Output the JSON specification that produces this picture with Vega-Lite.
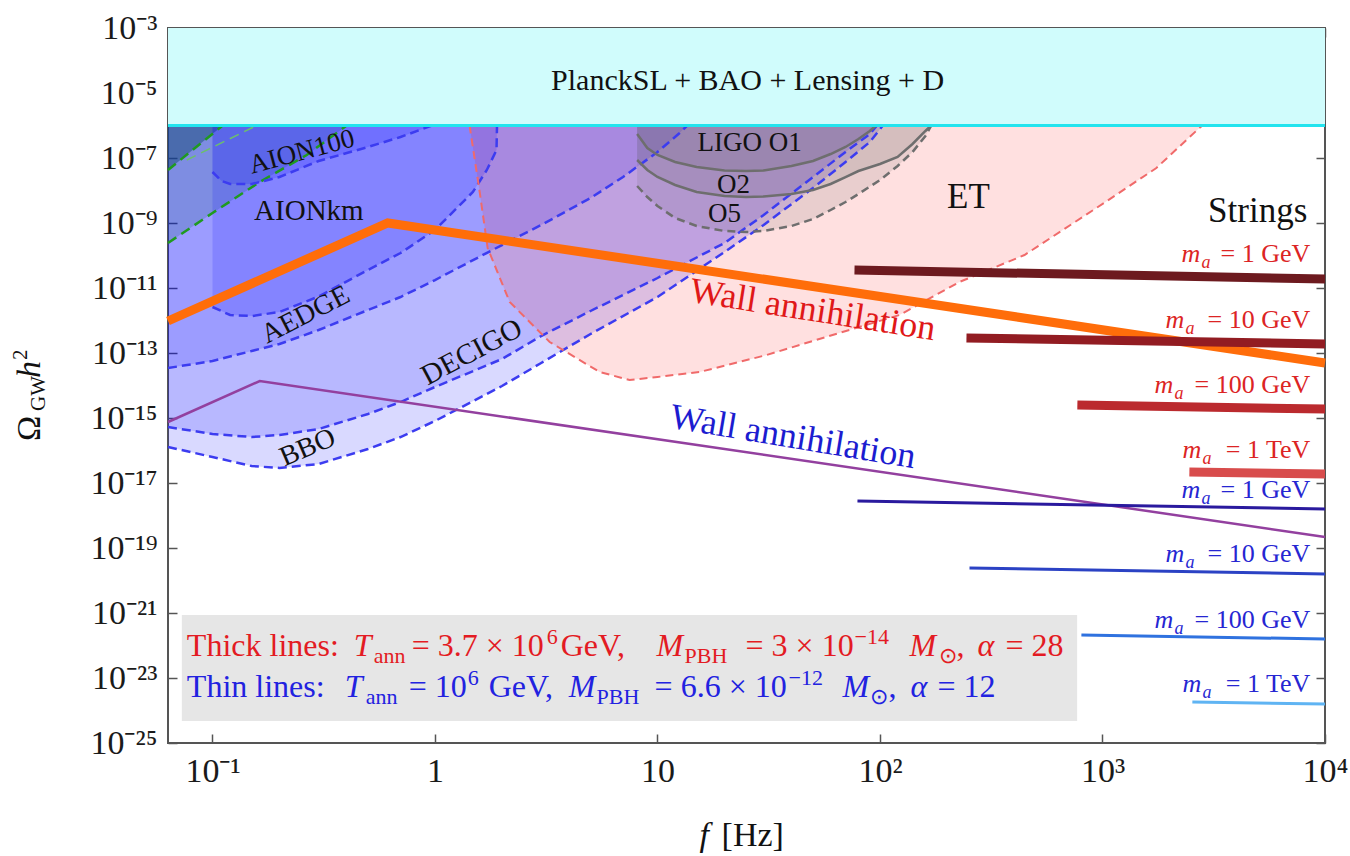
{
  "$schema": "https://vega.github.io/schema/vega-lite/v6.json",
  "width": 1157,
  "height": 715,
  "autosize": {"type": "none"},
  "padding": {"left": 168, "top": 28, "right": 25, "bottom": 113},
  "background": "white",
  "config": {
    "font": "Liberation Serif",
    "text": {"font": "Liberation Serif"},
    "view": {"stroke": "#555555", "strokeWidth": 2}
  },
  "datasets": {
    "blue": [
      {"g": "AION100", "f": 0.1, "o": 3.71e-8},
      {"g": "AION100", "f": 0.11, "o": 1.96e-8},
      {"g": "AION100", "f": 0.12, "o": 1.585e-8},
      {"g": "AION100", "f": 0.15, "o": 1.585e-8},
      {"g": "AION100", "f": 0.2, "o": 2.6e-8},
      {"g": "AION100", "f": 0.3, "o": 8.09e-8},
      {"g": "AION100", "f": 0.5, "o": 2.18e-7},
      {"g": "AION100", "f": 0.7, "o": 4.43e-7},
      {"g": "AION100", "f": 0.97, "o": 1e-6},
      {"g": "AIONkm", "f": 0.1, "o": 2.6e-12},
      {"g": "AIONkm", "f": 0.12, "o": 1.48e-12},
      {"g": "AIONkm", "f": 0.15, "o": 1.37e-12},
      {"g": "AIONkm", "f": 0.2, "o": 1.83e-12},
      {"g": "AIONkm", "f": 0.3, "o": 5.5e-12},
      {"g": "AIONkm", "f": 0.5, "o": 3.6e-11},
      {"g": "AIONkm", "f": 0.7, "o": 1.19e-10},
      {"g": "AIONkm", "f": 1.0, "o": 6.1e-10},
      {"g": "AIONkm", "f": 1.48, "o": 9.0e-9},
      {"g": "AIONkm", "f": 1.71, "o": 4.28e-8},
      {"g": "AIONkm", "f": 1.89, "o": 1.76e-7},
      {"g": "AIONkm", "f": 1.9, "o": 1e-6},
      {"g": "AEDGE", "f": 0.0631, "o": 3.45e-14},
      {"g": "AEDGE", "f": 0.1, "o": 5.68e-14},
      {"g": "AEDGE", "f": 0.15, "o": 1.153e-13},
      {"g": "AEDGE", "f": 0.2, "o": 1.89e-13},
      {"g": "AEDGE", "f": 0.3, "o": 5.1e-13},
      {"g": "AEDGE", "f": 0.5, "o": 2.1e-12},
      {"g": "AEDGE", "f": 0.7, "o": 5.28e-12},
      {"g": "AEDGE", "f": 1, "o": 1.76e-11},
      {"g": "AEDGE", "f": 2, "o": 2.1e-10},
      {"g": "AEDGE", "f": 3, "o": 8.67e-10},
      {"g": "AEDGE", "f": 5, "o": 5.87e-9},
      {"g": "AEDGE", "f": 7, "o": 2.6e-8},
      {"g": "AEDGE", "f": 10, "o": 1.53e-7},
      {"g": "AEDGE", "f": 12.5, "o": 5.68e-7},
      {"g": "AEDGE", "f": 13.6, "o": 1e-6},
      {"g": "DECIGO", "f": 0.0631, "o": 5.28e-16},
      {"g": "DECIGO", "f": 0.1, "o": 3.22e-16},
      {"g": "DECIGO", "f": 0.15, "o": 2.6e-16},
      {"g": "DECIGO", "f": 0.2, "o": 3.0e-16},
      {"g": "DECIGO", "f": 0.3, "o": 4.59e-16},
      {"g": "DECIGO", "f": 0.5, "o": 1.33e-15},
      {"g": "DECIGO", "f": 0.7, "o": 3.1e-15},
      {"g": "DECIGO", "f": 1, "o": 9.0e-15},
      {"g": "DECIGO", "f": 2, "o": 6.53e-14},
      {"g": "DECIGO", "f": 3, "o": 3.33e-13},
      {"g": "DECIGO", "f": 5, "o": 1.96e-12},
      {"g": "DECIGO", "f": 10, "o": 2.03e-11},
      {"g": "DECIGO", "f": 20, "o": 2.43e-10},
      {"g": "DECIGO", "f": 30, "o": 1.76e-9},
      {"g": "DECIGO", "f": 50, "o": 2.6e-8},
      {"g": "DECIGO", "f": 70, "o": 1.53e-7},
      {"g": "DECIGO", "f": 90, "o": 5.47e-7},
      {"g": "DECIGO", "f": 97, "o": 1e-6},
      {"g": "BBO", "f": 0.0631, "o": 1.28e-16},
      {"g": "BBO", "f": 0.1, "o": 6.31e-17},
      {"g": "BBO", "f": 0.15, "o": 3.33e-17},
      {"g": "BBO", "f": 0.2, "o": 2.9e-17},
      {"g": "BBO", "f": 0.3, "o": 3.85e-17},
      {"g": "BBO", "f": 0.5, "o": 1.11e-16},
      {"g": "BBO", "f": 0.7, "o": 2.6e-16},
      {"g": "BBO", "f": 1, "o": 8.09e-16},
      {"g": "BBO", "f": 2, "o": 9.66e-15},
      {"g": "BBO", "f": 3, "o": 4.92e-14},
      {"g": "BBO", "f": 5, "o": 3.85e-13},
      {"g": "BBO", "f": 10, "o": 5.28e-12},
      {"g": "BBO", "f": 20, "o": 1.28e-10},
      {"g": "BBO", "f": 30, "o": 8.67e-10},
      {"g": "BBO", "f": 50, "o": 1.194e-8},
      {"g": "BBO", "f": 70, "o": 7.53e-8},
      {"g": "BBO", "f": 90, "o": 3.1e-7},
      {"g": "BBO", "f": 103, "o": 1e-6}
    ],
    "green": [
      {"g": "G1", "f": 0.0631, "o": 4.28e-8},
      {"g": "G1", "f": 0.1112, "o": 1e-6},
      {"g": "G2", "f": 0.0631, "o": 2.43e-10},
      {"g": "G2", "f": 0.1, "o": 2.03e-9},
      {"g": "G2", "f": 0.1631, "o": 1.828e-8},
      {"g": "G2", "f": 0.2652, "o": 1.236e-7},
      {"g": "G2", "f": 0.4012, "o": 1e-6},
      {"g": "G3", "f": 0.0766, "o": 8.67e-8},
      {"g": "G3", "f": 0.158, "o": 1e-6}
    ],
    "et": [
      {"f": 1.43, "o": 1e-6},
      {"f": 1.588, "o": 9.0e-9},
      {"f": 1.724, "o": 1.7e-10},
      {"f": 2.166, "o": 3.71e-12},
      {"f": 3.276, "o": 2.18e-13},
      {"f": 5.495, "o": 2.6e-14},
      {"f": 7.494, "o": 1.476e-14},
      {"f": 10, "o": 1.83e-14},
      {"f": 15.46, "o": 2.6e-14},
      {"f": 30.92, "o": 8.67e-14},
      {"f": 61.2, "o": 3.58e-13},
      {"f": 122.4, "o": 1.476e-12},
      {"f": 227.5, "o": 1.53e-11},
      {"f": 446, "o": 1.035e-10},
      {"f": 939, "o": 2.9e-9},
      {"f": 1746, "o": 4.92e-8},
      {"f": 2725, "o": 8.4e-7},
      {"f": 2817, "o": 1e-6}
    ],
    "ligo": [
      {"g": "O1", "f": 8.1, "o": 5.47e-7},
      {"g": "O1", "f": 9, "o": 2.03e-7},
      {"g": "O1", "f": 10, "o": 1.236e-7},
      {"g": "O1", "f": 12, "o": 7.53e-8},
      {"g": "O1", "f": 15, "o": 5.28e-8},
      {"g": "O1", "f": 20, "o": 4.12e-8},
      {"g": "O1", "f": 25, "o": 3.98e-8},
      {"g": "O1", "f": 30, "o": 4.12e-8},
      {"g": "O1", "f": 40, "o": 5.68e-8},
      {"g": "O1", "f": 50, "o": 8.09e-8},
      {"g": "O1", "f": 60, "o": 1.327e-7},
      {"g": "O1", "f": 70, "o": 2.18e-7},
      {"g": "O1", "f": 80, "o": 3.85e-7},
      {"g": "O1", "f": 90, "o": 6.78e-7},
      {"g": "O1", "f": 96, "o": 1e-6},
      {"g": "O2", "f": 8.1, "o": 8.67e-8},
      {"g": "O2", "f": 9, "o": 4.28e-8},
      {"g": "O2", "f": 10, "o": 2.6e-8},
      {"g": "O2", "f": 12, "o": 1.476e-8},
      {"g": "O2", "f": 15, "o": 9.0e-9},
      {"g": "O2", "f": 20, "o": 6.78e-9},
      {"g": "O2", "f": 25, "o": 6.31e-9},
      {"g": "O2", "f": 30, "o": 6.53e-9},
      {"g": "O2", "f": 40, "o": 7.8e-9},
      {"g": "O2", "f": 50, "o": 1.035e-8},
      {"g": "O2", "f": 60, "o": 1.585e-8},
      {"g": "O2", "f": 70, "o": 2.6e-8},
      {"g": "O2", "f": 80, "o": 3.98e-8},
      {"g": "O2", "f": 100, "o": 6.53e-8},
      {"g": "O2", "f": 120, "o": 1.074e-7},
      {"g": "O2", "f": 140, "o": 2.7e-7},
      {"g": "O2", "f": 160, "o": 6.78e-7},
      {"g": "O2", "f": 170, "o": 1e-6},
      {"g": "O5", "f": 8.1, "o": 1.374e-8},
      {"g": "O5", "f": 9, "o": 6.31e-9},
      {"g": "O5", "f": 10, "o": 3.33e-9},
      {"g": "O5", "f": 12, "o": 1.426e-9},
      {"g": "O5", "f": 15, "o": 8.09e-10},
      {"g": "O5", "f": 20, "o": 5.68e-10},
      {"g": "O5", "f": 25, "o": 5.28e-10},
      {"g": "O5", "f": 30, "o": 5.68e-10},
      {"g": "O5", "f": 40, "o": 8.09e-10},
      {"g": "O5", "f": 50, "o": 1.327e-9},
      {"g": "O5", "f": 60, "o": 2.51e-9},
      {"g": "O5", "f": 70, "o": 4.43e-9},
      {"g": "O5", "f": 80, "o": 7.8e-9},
      {"g": "O5", "f": 100, "o": 2.1e-8},
      {"g": "O5", "f": 120, "o": 5.68e-8},
      {"g": "O5", "f": 140, "o": 1.53e-7},
      {"g": "O5", "f": 160, "o": 4.75e-7},
      {"g": "O5", "f": 170, "o": 1e-6}
    ],
    "wall": [
      {"g": "thick", "f": 0.0631, "o": 9.66e-13},
      {"g": "thick", "f": 0.6132, "o": 1e-9},
      {"g": "thick", "f": 10000, "o": 4.92e-14},
      {"g": "thin", "f": 0.0631, "o": 7.53e-16},
      {"g": "thin", "f": 0.1631, "o": 1.374e-14},
      {"g": "thin", "f": 10000, "o": 2.18e-19}
    ],
    "strings": [
      {"set": "thick", "m": "1 GeV", "f": 76.8, "o": 3.58e-11},
      {"set": "thick", "m": "1 GeV", "f": 10000, "o": 1.89e-11},
      {"set": "thick", "m": "10 GeV", "f": 244.7, "o": 2.9e-13},
      {"set": "thick", "m": "10 GeV", "f": 10000, "o": 1.89e-13},
      {"set": "thick", "m": "100 GeV", "f": 771, "o": 2.51e-15},
      {"set": "thick", "m": "100 GeV", "f": 10000, "o": 1.89e-15},
      {"set": "thick", "m": "1 TeV", "f": 2457, "o": 2.18e-17},
      {"set": "thick", "m": "1 TeV", "f": 10000, "o": 1.89e-17},
      {"set": "thin", "m": "1 GeV", "f": 79.2, "o": 2.79e-18},
      {"set": "thin", "m": "1 GeV", "f": 10000, "o": 1.585e-18},
      {"set": "thin", "m": "10 GeV", "f": 252.5, "o": 2.43e-20},
      {"set": "thin", "m": "10 GeV", "f": 10000, "o": 1.585e-20},
      {"set": "thin", "m": "100 GeV", "f": 803.8, "o": 2.1e-22},
      {"set": "thin", "m": "100 GeV", "f": 10000, "o": 1.585e-22},
      {"set": "thin", "m": "1 TeV", "f": 2534, "o": 1.83e-24},
      {"set": "thin", "m": "1 TeV", "f": 10000, "o": 1.585e-24}
    ],
    "mlab": [
      {"set": "thick", "role": "n", "t": "= 1 GeV", "f": 8590, "o": 6.31e-11},
      {"set": "thick", "role": "n", "t": "= 10 GeV", "f": 8590, "o": 5.87e-13},
      {"set": "thick", "role": "n", "t": "= 100 GeV", "f": 8590, "o": 5.87e-15},
      {"set": "thick", "role": "n", "t": "= 1 TeV", "f": 8590, "o": 5.87e-17},
      {"set": "thin", "role": "n", "t": "= 1 GeV", "f": 8590, "o": 3.45e-18},
      {"set": "thin", "role": "n", "t": "= 10 GeV", "f": 8590, "o": 3.71e-20},
      {"set": "thin", "role": "n", "t": "= 100 GeV", "f": 8590, "o": 3.45e-22},
      {"set": "thin", "role": "n", "t": "= 1 TeV", "f": 8590, "o": 3.71e-24},
      {"set": "thick", "role": "i", "t": "m", "f": 2267, "o": 6.31e-11},
      {"set": "thick", "role": "i", "t": "m", "f": 1921, "o": 5.87e-13},
      {"set": "thick", "role": "i", "t": "m", "f": 1714, "o": 5.87e-15},
      {"set": "thick", "role": "i", "t": "m", "f": 2291, "o": 5.87e-17},
      {"set": "thin", "role": "i", "t": "m", "f": 2267, "o": 3.45e-18},
      {"set": "thin", "role": "i", "t": "m", "f": 1921, "o": 3.71e-20},
      {"set": "thin", "role": "i", "t": "m", "f": 1714, "o": 3.45e-22},
      {"set": "thin", "role": "i", "t": "m", "f": 2291, "o": 3.71e-24},
      {"set": "thick", "role": "s", "t": "a", "f": 2787, "o": 4.12e-11},
      {"set": "thick", "role": "s", "t": "a", "f": 2362, "o": 3.85e-13},
      {"set": "thick", "role": "s", "t": "a", "f": 2108, "o": 3.85e-15},
      {"set": "thick", "role": "s", "t": "a", "f": 2817, "o": 3.85e-17},
      {"set": "thin", "role": "s", "t": "a", "f": 2787, "o": 2.26e-18},
      {"set": "thin", "role": "s", "t": "a", "f": 2362, "o": 2.43e-20},
      {"set": "thin", "role": "s", "t": "a", "f": 2108, "o": 2.26e-22},
      {"set": "thin", "role": "s", "t": "a", "f": 2817, "o": 2.43e-24}
    ],
    "legend": [
      {"set": "thick", "role": "n", "t": "Thick lines:", "f": 0.0767, "o": 4.75e-23},
      {"set": "thick", "role": "i", "t": "T", "f": 0.4313, "o": 4.75e-23},
      {"set": "thick", "role": "s", "t": "ann", "f": 0.5303, "o": 2.9e-23},
      {"set": "thick", "role": "n", "t": "= 3.7 × 10", "f": 0.7858, "o": 4.75e-23},
      {"set": "thick", "role": "s", "t": "6", "f": 3.176, "o": 1.11e-22},
      {"set": "thick", "role": "n", "t": "GeV,", "f": 3.67, "o": 4.75e-23},
      {"set": "thick", "role": "i", "t": "M", "f": 9.91, "o": 4.75e-23},
      {"set": "thick", "role": "s", "t": "PBH", "f": 13.23, "o": 2.9e-23},
      {"set": "thick", "role": "n", "t": "= 3 × 10", "f": 24.88, "o": 4.75e-23},
      {"set": "thick", "role": "s", "t": "−14", "f": 76.82, "o": 1.11e-22},
      {"set": "thick", "role": "i", "t": "M", "f": 135.7, "o": 4.75e-23},
      {"set": "thick", "role": "s", "t": "⊙", "f": 185.1, "o": 2.9e-23},
      {"set": "thick", "role": "n", "t": ",", "f": 220.7, "o": 4.75e-23},
      {"set": "thick", "role": "i", "t": "α", "f": 274.2, "o": 4.75e-23},
      {"set": "thick", "role": "n", "t": "= 28", "f": 366.3, "o": 4.75e-23},
      {"set": "thin", "role": "n", "t": "Thin lines:", "f": 0.0767, "o": 2.6e-24},
      {"set": "thin", "role": "i", "t": "T", "f": 0.3928, "o": 2.6e-24},
      {"set": "thin", "role": "s", "t": "ann", "f": 0.4883, "o": 1.585e-24},
      {"set": "thin", "role": "n", "t": "= 10", "f": 0.7619, "o": 2.6e-24},
      {"set": "thin", "role": "s", "t": "6", "f": 1.403, "o": 6.1e-24},
      {"set": "thin", "role": "n", "t": "GeV,", "f": 1.743, "o": 2.6e-24},
      {"set": "thin", "role": "i", "t": "M", "f": 3.988, "o": 2.6e-24},
      {"set": "thin", "role": "s", "t": "PBH", "f": 5.326, "o": 1.585e-24},
      {"set": "thin", "role": "n", "t": "= 6.6 × 10", "f": 9.705, "o": 2.6e-24},
      {"set": "thin", "role": "s", "t": "−12", "f": 38.81, "o": 6.1e-24},
      {"set": "thin", "role": "i", "t": "M", "f": 67.86, "o": 2.6e-24},
      {"set": "thin", "role": "s", "t": "⊙", "f": 90.63, "o": 1.585e-24},
      {"set": "thin", "role": "n", "t": ",", "f": 109.2, "o": 2.6e-24},
      {"set": "thin", "role": "i", "t": "α", "f": 137.1, "o": 2.6e-24},
      {"set": "thin", "role": "n", "t": "= 12", "f": 181.3, "o": 2.6e-24}
    ],
    "ytitle": [
      {"role": "n", "t": "Ω", "f": 0.01676, "o": 1.96e-16},
      {"role": "s", "t": "GW", "f": 0.01764, "o": 1.64e-15},
      {"role": "i", "t": "h", "f": 0.01676, "o": 1.7e-14},
      {"role": "s", "t": "2", "f": 0.01465, "o": 6.1e-14}
    ]
  },
  "encoding": {
    "x": {"field": "f", "type": "quantitative", "scale": {"type": "log", "domain": [0.0631, 10000]}, "axis": null},
    "y": {"field": "o", "type": "quantitative", "scale": {"type": "log", "domain": [1e-25, 1e-3]}, "axis": null}
  },
  "resolve": {
    "scale": {"color": "independent"},
    "axis": {"x": "independent", "y": "independent"}
  },
  "layer": [
    {
      "data": {"values": [{"f": 1, "o": 1e-10}]},
      "mark": {"type": "point", "opacity": 0},
      "encoding": {
        "x": {
          "field": "f", "type": "quantitative",
          "scale": {"type": "log", "domain": [0.0631, 10000]},
          "axis": {
            "orient": "bottom", "title": null, "domain": false, "grid": false,
            "values": [0.1, 1, 10, 100, 1000, 10000],
            "labelExpr": "datum.value < 0.5 ? '10⁻¹' : datum.value < 5 ? '1' : datum.value < 50 ? '10' : datum.value < 500 ? '10²' : datum.value < 5000 ? '10³' : '10⁴'",
            "tickSize": -9, "tickColor": "#555555", "tickWidth": 1.5,
            "labelPadding": 20, "labelFontSize": 34, "labelFont": "Liberation Serif",
            "labelColor": "#1a1a1a", "labelFlush": false, "labelOverlap": false
          }
        },
        "y": {
          "field": "o", "type": "quantitative",
          "scale": {"type": "log", "domain": [1e-25, 1e-3]},
          "axis": {
            "orient": "left", "title": null, "domain": false, "grid": false,
            "values": [1e-3, 1e-5, 1e-7, 1e-9, 1e-11, 1e-13, 1e-15, 1e-17, 1e-19, 1e-21, 1e-23, 1e-25],
            "labelExpr": "datum.value > 1e-4 ? '10⁻³' : datum.value > 1e-6 ? '10⁻⁵' : datum.value > 1e-8 ? '10⁻⁷' : datum.value > 1e-10 ? '10⁻⁹' : datum.value > 1e-12 ? '10⁻¹¹' : datum.value > 1e-14 ? '10⁻¹³' : datum.value > 1e-16 ? '10⁻¹⁵' : datum.value > 1e-18 ? '10⁻¹⁷' : datum.value > 1e-20 ? '10⁻¹⁹' : datum.value > 1e-22 ? '10⁻²¹' : datum.value > 1e-24 ? '10⁻²³' : '10⁻²⁵'",
            "tickSize": -9, "tickColor": "#555555", "tickWidth": 1.5,
            "labelPadding": 20, "labelFontSize": 34, "labelFont": "Liberation Serif",
            "labelColor": "#1a1a1a", "labelFlush": false, "labelOverlap": false
          }
        }
      }
    },
    {
      "data": {"values": [{"f": 1, "o": 1e-10}]},
      "mark": {"type": "point", "opacity": 0},
      "encoding": {
        "x": {
          "field": "f", "type": "quantitative",
          "scale": {"type": "log", "domain": [0.0631, 10000]},
          "axis": {
            "orient": "top", "title": null, "domain": false, "grid": false, "labels": false,
            "values": [0.1, 1, 10, 100, 1000, 10000],
            "tickSize": -9, "tickColor": "#555555", "tickWidth": 1.5
          }
        },
        "y": {
          "field": "o", "type": "quantitative",
          "scale": {"type": "log", "domain": [1e-25, 1e-3]},
          "axis": {
            "orient": "right", "title": null, "domain": false, "grid": false, "labels": false,
            "values": [1e-3, 1e-5, 1e-7, 1e-9, 1e-11, 1e-13, 1e-15, 1e-17, 1e-19, 1e-21, 1e-23, 1e-25],
            "tickSize": -9, "tickColor": "#555555", "tickWidth": 1.5
          }
        }
      }
    },
    {
      "data": {"values": [{"f": 0.0631, "f2": 10000, "o": 1e-6, "o2": 1e-3}]},
      "mark": {"type": "rect", "fill": "#d0fcfc"},
      "encoding": {"x2": {"field": "f2"}, "y2": {"field": "o2"}}
    },
    {
      "data": {"name": "green"},
      "transform": [{"filter": "datum.g == 'G1'"}],
      "mark": {"type": "area", "fill": "#2a7a2a", "fillOpacity": 0.5},
      "encoding": {"y2": {"datum": 1e-6}}
    },
    {
      "data": {"name": "green"},
      "transform": [{"filter": "datum.g == 'G2'"}],
      "mark": {"type": "area", "fill": "#1a8a2a", "fillOpacity": 0.22},
      "encoding": {"y2": {"datum": 1e-6}}
    },
    {
      "data": {"name": "blue"},
      "mark": {"type": "area", "fill": "#0000ff", "fillOpacity": 0.15},
      "encoding": {"y2": {"datum": 1e-6}, "detail": {"field": "g"}}
    },
    {
      "data": {"name": "et"},
      "mark": {"type": "area", "fill": "#ff0000", "fillOpacity": 0.12},
      "encoding": {"y2": {"datum": 1e-6}}
    },
    {
      "data": {"name": "ligo"},
      "mark": {"type": "area", "fill": "#555555", "fillOpacity": 0.13},
      "encoding": {"y2": {"datum": 1e-6}, "detail": {"field": "g"}}
    },
    {
      "data": {"name": "green"},
      "transform": [{"filter": "datum.g != 'G3'"}],
      "mark": {"type": "line", "stroke": "#1f9a1f", "strokeWidth": 2.5, "strokeDash": [10, 6]},
      "encoding": {"detail": {"field": "g"}}
    },
    {
      "data": {"name": "green"},
      "transform": [{"filter": "datum.g == 'G3'"}],
      "mark": {"type": "line", "stroke": "#6cbf6c", "strokeWidth": 1.5, "strokeDash": [10, 6]},
      "encoding": {}
    },
    {
      "data": {"name": "blue"},
      "mark": {"type": "line", "stroke": "#3c3cf0", "strokeWidth": 2.5, "strokeDash": [9, 5]},
      "encoding": {"detail": {"field": "g"}}
    },
    {
      "data": {"name": "et"},
      "mark": {"type": "line", "stroke": "#f06a6a", "strokeWidth": 2, "strokeDash": [8, 5]},
      "encoding": {}
    },
    {
      "data": {"name": "ligo"},
      "transform": [{"filter": "datum.g != 'O5'"}],
      "mark": {"type": "line", "stroke": "#6e6e6e", "strokeWidth": 2.5},
      "encoding": {"detail": {"field": "g"}}
    },
    {
      "data": {"name": "ligo"},
      "transform": [{"filter": "datum.g == 'O5'"}],
      "mark": {"type": "line", "stroke": "#6e6e6e", "strokeWidth": 2.5, "strokeDash": [8, 5]},
      "encoding": {}
    },
    {
      "data": {"values": [{"f": 0.0631, "f2": 10000, "o": 1e-6}]},
      "mark": {"type": "rule", "stroke": "#22e4ee", "strokeWidth": 3},
      "encoding": {"x2": {"field": "f2"}}
    },
    {
      "data": {"name": "wall"},
      "transform": [{"filter": "datum.g == 'thick'"}],
      "mark": {"type": "line", "stroke": "#ff6d0a", "strokeWidth": 9},
      "encoding": {}
    },
    {
      "data": {"name": "wall"},
      "transform": [{"filter": "datum.g == 'thin'"}],
      "mark": {"type": "line", "stroke": "#93409f", "strokeWidth": 2.5},
      "encoding": {}
    },
    {
      "data": {"name": "strings"},
      "transform": [{"filter": "datum.set == 'thick'"}],
      "mark": {"type": "line", "strokeWidth": 9, "strokeCap": "butt"},
      "encoding": {
        "color": {"field": "m", "type": "nominal", "legend": null,
          "scale": {"domain": ["1 GeV", "10 GeV", "100 GeV", "1 TeV"], "range": ["#6d1a1f", "#921c22", "#bb2a2e", "#d84c4c"]}}
      }
    },
    {
      "data": {"name": "strings"},
      "transform": [{"filter": "datum.set == 'thin'"}],
      "mark": {"type": "line", "strokeWidth": 3, "strokeCap": "butt"},
      "encoding": {
        "color": {"field": "m", "type": "nominal", "legend": null,
          "scale": {"domain": ["1 GeV", "10 GeV", "100 GeV", "1 TeV"], "range": ["#2a1a9e", "#2b42c4", "#2f72df", "#5fb4f3"]}}
      }
    },
    {
      "data": {"values": [{"t": "PlanckSL + BAO + Lensing + D", "f": 25.4, "o": 1.236e-5}]},
      "mark": {"type": "text", "font": "Liberation Serif", "fontSize": 30, "align": "center", "baseline": "alphabetic", "color": "#111111"},
      "encoding": {"text": {"field": "t"}}
    },
    {
      "data": {"values": [{"t": "ET", "f": 249.6, "o": 2.9e-9}]},
      "mark": {"type": "text", "font": "Liberation Serif", "fontSize": 35, "align": "center", "baseline": "alphabetic", "color": "#111111"},
      "encoding": {"text": {"field": "t"}}
    },
    {
      "data": {"values": [{"t": "Strings", "f": 8327, "o": 1.074e-9}]},
      "mark": {"type": "text", "font": "Liberation Serif", "fontSize": 35, "align": "right", "baseline": "alphabetic", "color": "#111111"},
      "encoding": {"text": {"field": "t"}}
    },
    {
      "data": {"values": [{"t": "AIONkm", "f": 0.2711, "o": 2.34e-9}]},
      "mark": {"type": "text", "font": "Liberation Serif", "fontSize": 29, "align": "center", "baseline": "middle", "color": "#111111"},
      "encoding": {"text": {"field": "t"}}
    },
    {
      "data": {"values": [{"t": "AION100", "f": 0.2518, "o": 1.53e-7}]},
      "mark": {"type": "text", "font": "Liberation Serif", "fontSize": 27, "align": "center", "baseline": "middle", "angle": 345, "color": "#111111"},
      "encoding": {"text": {"field": "t"}}
    },
    {
      "data": {"values": [{"t": "AEDGE", "f": 0.2625, "o": 1.476e-12}]},
      "mark": {"type": "text", "font": "Liberation Serif", "fontSize": 28, "align": "center", "baseline": "middle", "angle": 333, "color": "#111111"},
      "encoding": {"text": {"field": "t"}}
    },
    {
      "data": {"values": [{"t": "DECIGO", "f": 1.462, "o": 1.074e-13}]},
      "mark": {"type": "text", "font": "Liberation Serif", "fontSize": 29, "align": "center", "baseline": "middle", "angle": 332, "color": "#111111"},
      "encoding": {"text": {"field": "t"}}
    },
    {
      "data": {"values": [{"t": "BBO", "f": 0.268, "o": 1.194e-16}]},
      "mark": {"type": "text", "font": "Liberation Serif", "fontSize": 28, "align": "center", "baseline": "middle", "angle": 337, "color": "#111111"},
      "encoding": {"text": {"field": "t"}}
    },
    {
      "data": {"values": [
        {"t": "LIGO O1", "f": 25.93, "o": 2.9e-7},
        {"t": "O2", "f": 21.98, "o": 1.476e-8},
        {"t": "O5", "f": 20.02, "o": 1.89e-9}
      ]},
      "mark": {"type": "text", "font": "Liberation Serif", "fontSize": 27, "align": "center", "baseline": "middle", "color": "#111111"},
      "encoding": {"text": {"field": "t"}}
    },
    {
      "data": {"values": [{"t": "Wall annihilation", "f": 49.9, "o": 2.1e-12}]},
      "mark": {"type": "text", "font": "Liberation Serif", "fontSize": 36, "align": "center", "baseline": "middle", "angle": 9, "color": "#e01818"},
      "encoding": {"text": {"field": "t"}}
    },
    {
      "data": {"values": [{"t": "Wall annihilation", "f": 40.6, "o": 2.6e-16}]},
      "mark": {"type": "text", "font": "Liberation Serif", "fontSize": 36, "align": "center", "baseline": "middle", "angle": 9.5, "color": "#1c1cd0"},
      "encoding": {"text": {"field": "t"}}
    },
    {
      "data": {"name": "mlab"},
      "transform": [{"filter": "datum.role == 'n'"}],
      "mark": {"type": "text", "font": "Liberation Serif", "fontSize": 26, "align": "right", "baseline": "alphabetic"},
      "encoding": {
        "text": {"field": "t"},
        "color": {"field": "set", "type": "nominal", "legend": null, "scale": {"domain": ["thick", "thin"], "range": ["#dc2424", "#2626d2"]}}
      }
    },
    {
      "data": {"name": "mlab"},
      "transform": [{"filter": "datum.role == 'i'"}],
      "mark": {"type": "text", "font": "Liberation Serif", "fontSize": 26, "fontStyle": "italic", "align": "left", "baseline": "alphabetic"},
      "encoding": {
        "text": {"field": "t"},
        "color": {"field": "set", "type": "nominal", "legend": null, "scale": {"domain": ["thick", "thin"], "range": ["#dc2424", "#2626d2"]}}
      }
    },
    {
      "data": {"name": "mlab"},
      "transform": [{"filter": "datum.role == 's'"}],
      "mark": {"type": "text", "font": "Liberation Serif", "fontSize": 18, "fontStyle": "italic", "align": "left", "baseline": "alphabetic"},
      "encoding": {
        "text": {"field": "t"},
        "color": {"field": "set", "type": "nominal", "legend": null, "scale": {"domain": ["thick", "thin"], "range": ["#dc2424", "#2626d2"]}}
      }
    },
    {
      "data": {"values": [{"f": 0.0728, "f2": 769, "o": 8.67e-22, "o2": 4.75e-25}]},
      "mark": {"type": "rect", "fill": "#e6e6e6"},
      "encoding": {"x2": {"field": "f2"}, "y2": {"field": "o2"}}
    },
    {
      "data": {"name": "legend"},
      "transform": [{"filter": "datum.role == 'n'"}],
      "mark": {"type": "text", "font": "Liberation Serif", "fontSize": 32, "align": "left", "baseline": "alphabetic"},
      "encoding": {
        "text": {"field": "t"},
        "color": {"field": "set", "type": "nominal", "legend": null, "scale": {"domain": ["thick", "thin"], "range": ["#e31b23", "#2222e0"]}}
      }
    },
    {
      "data": {"name": "legend"},
      "transform": [{"filter": "datum.role == 'i'"}],
      "mark": {"type": "text", "font": "Liberation Serif", "fontSize": 32, "fontStyle": "italic", "align": "left", "baseline": "alphabetic"},
      "encoding": {
        "text": {"field": "t"},
        "color": {"field": "set", "type": "nominal", "legend": null, "scale": {"domain": ["thick", "thin"], "range": ["#e31b23", "#2222e0"]}}
      }
    },
    {
      "data": {"name": "legend"},
      "transform": [{"filter": "datum.role == 's'"}],
      "mark": {"type": "text", "font": "Liberation Serif", "fontSize": 22, "align": "left", "baseline": "alphabetic"},
      "encoding": {
        "text": {"field": "t"},
        "color": {"field": "set", "type": "nominal", "legend": null, "scale": {"domain": ["thick", "thin"], "range": ["#e31b23", "#2222e0"]}}
      }
    },
    {
      "data": {"name": "ytitle"},
      "transform": [{"filter": "datum.role == 'n'"}],
      "mark": {"type": "text", "font": "Liberation Serif", "fontSize": 34, "angle": 270, "align": "left", "baseline": "alphabetic", "color": "#111111"},
      "encoding": {"text": {"field": "t"}}
    },
    {
      "data": {"name": "ytitle"},
      "transform": [{"filter": "datum.role == 'i'"}],
      "mark": {"type": "text", "font": "Liberation Serif", "fontSize": 34, "fontStyle": "italic", "angle": 270, "align": "left", "baseline": "alphabetic", "color": "#111111"},
      "encoding": {"text": {"field": "t"}}
    },
    {
      "data": {"name": "ytitle"},
      "transform": [{"filter": "datum.role == 's'"}],
      "mark": {"type": "text", "font": "Liberation Serif", "fontSize": 21, "angle": 270, "align": "left", "baseline": "alphabetic", "color": "#111111"},
      "encoding": {"text": {"field": "t"}}
    },
    {
      "data": {"values": [{"t": "f", "f": 15.46, "o": 6.78e-29}]},
      "mark": {"type": "text", "font": "Liberation Serif", "fontSize": 34, "fontStyle": "italic", "align": "left", "baseline": "alphabetic", "color": "#111111"},
      "encoding": {"text": {"field": "t"}}
    },
    {
      "data": {"values": [{"t": "[Hz]", "f": 19.41, "o": 6.78e-29}]},
      "mark": {"type": "text", "font": "Liberation Serif", "fontSize": 34, "align": "left", "baseline": "alphabetic", "color": "#111111"},
      "encoding": {"text": {"field": "t"}}
    }
  ]
}
